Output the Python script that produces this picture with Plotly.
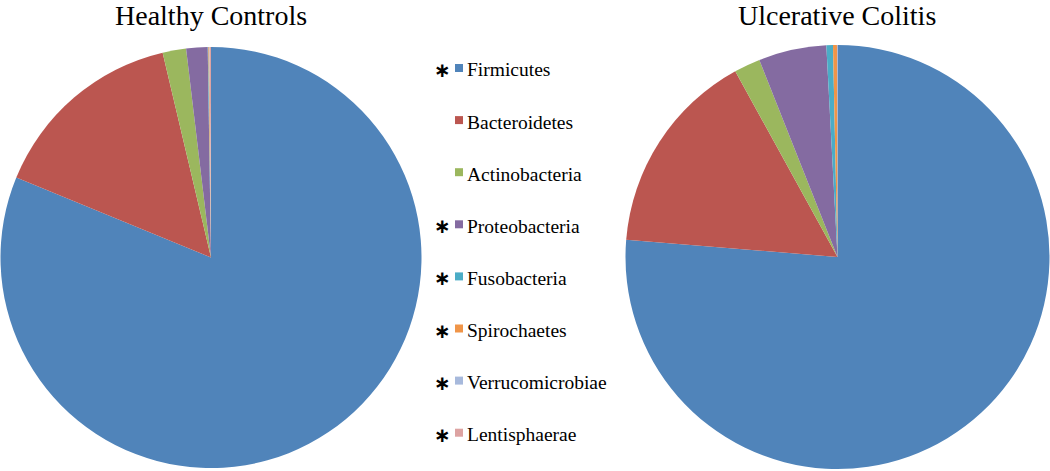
import plotly.graph_objects as go

labels = ["Firmicutes", "Bacteroidetes", "Actinobacteria", "Proteobacteria",
          "Fusobacteria", "Spirochaetes", "Verrucomicrobiae", "Lentisphaerae"]
healthy = [81.2, 15.1, 1.8, 1.64, 0.05, 0.07, 0.03, 0.10]
uc = [76.3, 15.7, 2.0, 5.17, 0.5, 0.3, 0.02, 0.02]
significant = [True, False, False, True, True, True, True, True]
colors = ["#5084BA", "#BB5650", "#9BB75E", "#846BA1",
          "#4BACC6", "#F09548", "#A7B9DC", "#DDA3A2"]
titles = ["Healthy Controls", "Ulcerative Colitis"]

W, H = 1050, 471

def px(x):
    return x / W

def py(y):
    return 1 - y / H

fig = go.Figure()
fig.add_trace(go.Pie(
    labels=labels, values=healthy, sort=False, direction="clockwise", rotation=0,
    marker=dict(colors=colors, line=dict(width=0)), textinfo="none", hoverinfo="label+percent",
    showlegend=False,
    domain=dict(x=[px(0), px(422)], y=[py(468), py(47)]),
))
fig.add_trace(go.Pie(
    labels=labels, values=uc, sort=False, direction="clockwise", rotation=0,
    marker=dict(colors=colors, line=dict(width=0)), textinfo="none", hoverinfo="label+percent",
    showlegend=False,
    domain=dict(x=[px(625), px(1050)], y=[py(469), py(45)]),
))

annotations = []
shapes = []
serif = "Liberation Serif, Times New Roman, serif"
title_x = [211, 837]
for t, cx in zip(titles, title_x):
    annotations.append(dict(text=t, x=px(cx), y=py(16), xref="paper", yref="paper",
                            xanchor="center", yanchor="middle", showarrow=False,
                            font=dict(family=serif, size=28, color="black")))

row0, gap = 68, 52.1
for i, (lab, col, sig) in enumerate(zip(labels, colors, significant)):
    yc = row0 + gap * i
    shapes.append(dict(type="rect", xref="paper", yref="paper",
                       x0=px(455), x1=px(463), y0=py(yc + 4), y1=py(yc - 4),
                       fillcolor=col, line=dict(width=0)))
    annotations.append(dict(text=lab, x=px(465), y=py(yc + 2), xref="paper", yref="paper",
                            xanchor="left", yanchor="middle", showarrow=False,
                            font=dict(family=serif, size=19.5, color="black")))
    if sig:
        annotations.append(dict(text="<b>∗</b>", x=px(442), y=py(yc + 2), xref="paper", yref="paper",
                                xanchor="center", yanchor="middle", showarrow=False,
                                font=dict(family="DejaVu Sans", size=20, color="black")))

fig.update_layout(
    width=W, height=H, margin=dict(l=0, r=0, t=0, b=0),
    paper_bgcolor="white", plot_bgcolor="white",
    annotations=annotations, shapes=shapes,
)

fig.write_html("out.html", config={"displayModeBar": False},
               post_script="document.body.style.margin='0';")
